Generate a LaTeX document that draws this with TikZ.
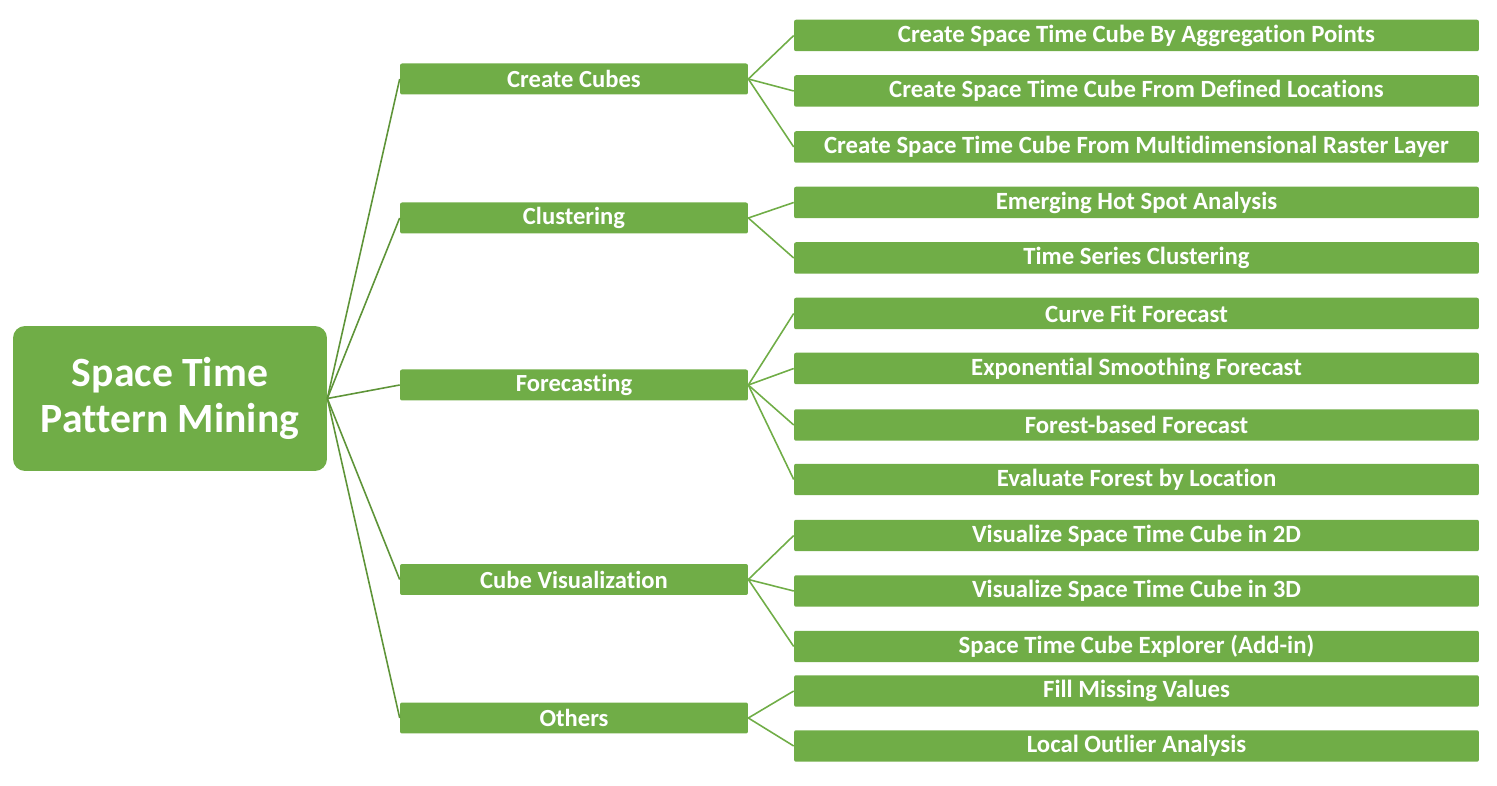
\documentclass[tikz,border=0pt]{standalone}
\usepackage{fontspec}
\setmainfont{Carlito}[Ligatures=NoCommon]
\usepackage{xcolor}
\usetikzlibrary{positioning}

\definecolor{leafgreen}{HTML}{70AD47}
\definecolor{linegreen}{HTML}{5E9438}

\begin{document}
\begin{tikzpicture}[x=0.02cm, y=-0.02cm,
    rootbox/.style={fill=leafgreen, rounded corners=0.24cm, minimum width=6.28cm, minimum height=2.9cm,
        text=white, font=\fontsize{23.7}{26}\selectfont\bfseries, align=center, inner sep=0pt},
    midbox/.style={fill=leafgreen, rounded corners=0.04cm, minimum width=6.96cm, minimum height=0.62cm,
        text=white, font=\fontsize{14}{15}\selectfont\bfseries, inner sep=0pt},
    leafbox/.style={fill=leafgreen, rounded corners=0.04cm, minimum width=13.7cm, minimum height=0.63cm,
        text=white, font=\fontsize{14.1}{15}\selectfont\bfseries, inner sep=0pt},
    rootline/.style={draw=linegreen, line width=0.9pt},
    leafline/.style={draw=leafgreen, line width=0.9pt}]
    \useasboundingbox (0,0) rectangle (1497,786);

    % Root node
    \node[rootbox] (root) at (170,398.5) {Space Time\\Pattern Mining};

    % Categories
    \node[midbox] (cubes) at (574,79) {Create Cubes};
    \node[midbox] (clust) at (574,218) {Clustering};
    \node[midbox] (fcast) at (574,385) {Forecasting};
    \node[midbox] (cubevis) at (574,579.5) {Cube Visualization};
    \node[midbox] (others) at (574,718) {Others};

    % Tools
    \node[leafbox] (aggr) at (1136.5,35.5) {Create Space Time Cube By Aggregation Points};
    \node[leafbox] (defloc) at (1136.5,91) {Create Space Time Cube From Defined Locations};
    \node[leafbox] (raster) at (1136.5,147) {Create Space Time Cube From Multidimensional Raster Layer};
    \node[leafbox] (hotspot) at (1136.5,202.5) {Emerging Hot Spot Analysis};
    \node[leafbox] (tsclust) at (1136.5,258) {Time Series Clustering};
    \node[leafbox] (curvefit) at (1136.5,313.5) {Curve Fit Forecast};
    \node[leafbox] (expsmooth) at (1136.5,368.5) {Exponential Smoothing Forecast};
    \node[leafbox] (forest) at (1136.5,425) {Forest-based Forecast};
    \node[leafbox] (evalforest) at (1136.5,479.5) {Evaluate Forest by Location};
    \node[leafbox] (vis2d) at (1136.5,535.5) {Visualize Space Time Cube in 2D};
    \node[leafbox] (vis3d) at (1136.5,591) {Visualize Space Time Cube in 3D};
    \node[leafbox] (explorer) at (1136.5,646.5) {Space Time Cube Explorer (Add-in)};
    \node[leafbox] (fillmiss) at (1136.5,691) {Fill Missing Values};
    \node[leafbox] (outlier) at (1136.5,746) {Local Outlier Analysis};

    % Root to categories
    \draw[rootline] (root.east) -- (cubes.west);
    \draw[rootline] (root.east) -- (clust.west);
    \draw[rootline] (root.east) -- (fcast.west);
    \draw[rootline] (root.east) -- (cubevis.west);
    \draw[rootline] (root.east) -- (others.west);

    % Categories to tools
    \draw[leafline] (cubes.east) -- (aggr.west);
    \draw[leafline] (cubes.east) -- (defloc.west);
    \draw[leafline] (cubes.east) -- (raster.west);
    \draw[leafline] (clust.east) -- (hotspot.west);
    \draw[leafline] (clust.east) -- (tsclust.west);
    \draw[leafline] (fcast.east) -- (curvefit.west);
    \draw[leafline] (fcast.east) -- (expsmooth.west);
    \draw[leafline] (fcast.east) -- (forest.west);
    \draw[leafline] (fcast.east) -- (evalforest.west);
    \draw[leafline] (cubevis.east) -- (vis2d.west);
    \draw[leafline] (cubevis.east) -- (vis3d.west);
    \draw[leafline] (cubevis.east) -- (explorer.west);
    \draw[leafline] (others.east) -- (fillmiss.west);
    \draw[leafline] (others.east) -- (outlier.west);
\end{tikzpicture}
\end{document}
